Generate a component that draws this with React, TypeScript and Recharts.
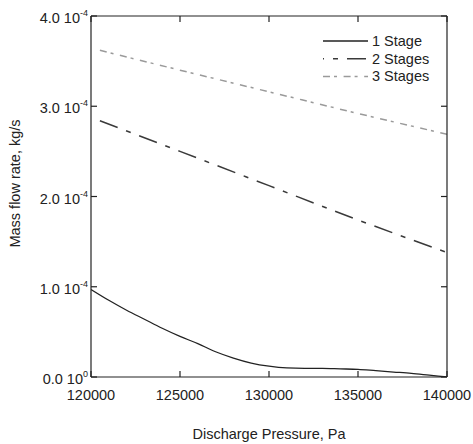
import { LineChart, Line, XAxis, YAxis, Legend } from 'recharts'

// Discharge pressure, Pa
const PRESSURE_1 = [
  120000, 121000, 122000, 123000, 124000, 125000, 126000, 127000, 128000, 129000, 130000,
  131000, 132000, 133000, 134000, 135000, 136000, 137000, 138000, 139000, 140000,
]
// Mass flow rate, kg/s
const STAGE_1 = [
  0.97e-4, 0.85e-4, 0.74e-4, 0.64e-4, 0.54e-4, 0.45e-4, 0.37e-4, 0.28e-4, 0.21e-4, 0.155e-4, 0.12e-4,
  0.1e-4, 0.095e-4, 0.095e-4, 0.09e-4, 0.085e-4, 0.07e-4, 0.055e-4, 0.04e-4, 0.02e-4, 0,
]

const PRESSURE_23 = [120500, 125000, 130000, 135000, 140000]
const STAGE_2 = [2.84e-4, 2.5e-4, 2.12e-4, 1.74e-4, 1.38e-4]
const STAGE_3 = [3.62e-4, 3.4e-4, 3.16e-4, 2.92e-4, 2.69e-4]

const X_TICKS = [120000, 125000, 130000, 135000, 140000]
const Y_TICKS = [0, 1e-4, 2e-4, 3e-4, 4e-4]

const FONT = '"Liberation Sans", Arial, sans-serif'
const INK = '#222'

const SERIES = [
  { name: '1 Stage', color: '#222', dash: undefined as string | undefined, width: 1.3, legendOffset: 0 },
  { name: '2 Stages', color: '#3a3a3a', dash: '19 9 5 9', width: 1.5, legendOffset: 18 },
  { name: '3 Stages', color: '#9a9a9a', dash: '7 4 3 6.6', width: 1.5, legendOffset: 0 },
]

const stage1 = PRESSURE_1.map((p, i) => ({ p, v: STAGE_1[i] }))
const stage2 = PRESSURE_23.map((p, i) => ({ p, v: STAGE_2[i] }))
const stage3 = PRESSURE_23.map((p, i) => ({ p, v: STAGE_3[i] }))
const seriesData = [stage1, stage2, stage3]

function sci(v: number) {
  if (v === 0) return { m: '0.0', e: '0' }
  const e = Math.floor(Math.log10(Math.abs(v)) + 1e-9)
  return { m: (v / Math.pow(10, e)).toFixed(1), e: String(e) }
}

// eslint-disable-next-line @typescript-eslint/no-explicit-any
const BottomTick = (props: any) => {
  const { x, y, payload } = props
  return (
    <g>
      <line x1={x} y1={y} x2={x} y2={y - 6} stroke={INK} strokeWidth={1.2} />
      <text x={x} y={y + 23} textAnchor="middle" fontSize={14.5} fill={INK} fontFamily={FONT}>
        {payload.value}
      </text>
    </g>
  )
}

// eslint-disable-next-line @typescript-eslint/no-explicit-any
const TopTick = (props: any) => {
  const { x, y } = props
  return <line x1={x} y1={y} x2={x} y2={y + 6} stroke={INK} strokeWidth={1.2} />
}

// eslint-disable-next-line @typescript-eslint/no-explicit-any
const LeftTick = (props: any) => {
  const { x, y, payload } = props
  const { m, e } = sci(payload.value)
  return (
    <g>
      <line x1={x} y1={y} x2={x + 6} y2={y} stroke={INK} strokeWidth={1.2} />
      <text x={x - 3} y={y + 7} textAnchor="end" fontSize={14.5} fill={INK} fontFamily={FONT}>
        <tspan>{`${m} 10`}</tspan>
        <tspan dy={-7} fontSize={9}>{e}</tspan>
      </text>
    </g>
  )
}

// eslint-disable-next-line @typescript-eslint/no-explicit-any
const RightTick = (props: any) => {
  const { x, y } = props
  return <line x1={x} y1={y} x2={x - 6} y2={y} stroke={INK} strokeWidth={1.2} />
}

const LegendBox = () => (
  <svg width={140} height={60}>
    {SERIES.map((s, i) => (
      <g key={s.name}>
        <line
          x1={5}
          x2={50}
          y1={11 + i * 17.7}
          y2={11 + i * 17.7}
          stroke={s.color}
          strokeWidth={s.width}
          strokeDasharray={s.dash}
          strokeDashoffset={s.legendOffset}
        />
        <text x={54} y={16 + i * 17.7} fontSize={14.5} fill={INK} fontFamily={FONT}>
          {s.name}
        </text>
      </g>
    ))}
  </svg>
)

export default function App() {
  return (
    <div style={{ position: 'fixed', left: 0, top: 0, background: '#fff' }}>
      <LineChart width={473} height={444} margin={{ top: 15, right: 25, bottom: 0, left: 0 }}>
        <XAxis
          xAxisId="b"
          type="number"
          dataKey="p"
          domain={[120000, 140000]}
          ticks={X_TICKS}
          height={67}
          tickSize={0}
          tickMargin={0}
          tick={<BottomTick />}
          axisLine={{ stroke: INK, strokeWidth: 1.2 }}
          allowDataOverflow
          label={{
            content: ({ viewBox }: any) => (
              <text
                x={viewBox.x + viewBox.width / 2}
                y={viewBox.y + 62}
                textAnchor="middle"
                fontSize={14.5}
                fill={INK}
                fontFamily={FONT}
              >
                Discharge Pressure, Pa
              </text>
            ),
          }}
        />
        <XAxis
          xAxisId="t"
          orientation="top"
          type="number"
          dataKey="p"
          domain={[120000, 140000]}
          ticks={X_TICKS}
          height={1}
          tickSize={0}
          tickMargin={0}
          tick={<TopTick />}
          axisLine={{ stroke: INK, strokeWidth: 1.2 }}
          allowDataOverflow
        />
        <YAxis
          yAxisId="l"
          type="number"
          domain={[0, 4e-4]}
          ticks={Y_TICKS}
          width={91}
          tickSize={0}
          tickMargin={0}
          tick={<LeftTick />}
          axisLine={{ stroke: INK, strokeWidth: 1.2 }}
          allowDataOverflow
          label={{
            content: ({ viewBox }: any) => {
              const cx = viewBox.x + 15
              const cy = viewBox.y + viewBox.height / 2 - 13
              return (
                <text
                  x={cx}
                  y={cy}
                  transform={`rotate(-90 ${cx} ${cy})`}
                  textAnchor="middle"
                  dominantBaseline="central"
                  fontSize={14.5}
                  fill={INK}
                  fontFamily={FONT}
                >
                  Mass flow rate, kg/s
                </text>
              )
            },
          }}
        />
        <YAxis
          yAxisId="r"
          orientation="right"
          type="number"
          domain={[0, 4e-4]}
          ticks={Y_TICKS}
          width={1}
          tickSize={0}
          tickMargin={0}
          tick={<RightTick />}
          axisLine={{ stroke: INK, strokeWidth: 1.2 }}
          allowDataOverflow
        />
        <Legend
          layout="horizontal"
          verticalAlign="middle"
          align="center"
          content={<LegendBox />}
          wrapperStyle={{ position: 'absolute', left: 318, top: 30, width: 140 }}
        />
        {SERIES.map((s, i) => (
          <Line
            key={s.name}
            name={s.name}
            xAxisId="b"
            yAxisId="l"
            data={seriesData[i]}
            dataKey="v"
            type="monotone"
            stroke={s.color}
            strokeWidth={s.width}
            strokeDasharray={s.dash}
            dot={false}
            activeDot={false}
            isAnimationActive={false}
          />
        ))}
        {/* invisible series so the top and right frame axes get drawn */}
        <Line
          xAxisId="t"
          yAxisId="r"
          data={stage3}
          dataKey="v"
          stroke="none"
          dot={false}
          activeDot={false}
          legendType="none"
          isAnimationActive={false}
        />
      </LineChart>
    </div>
  )
}
